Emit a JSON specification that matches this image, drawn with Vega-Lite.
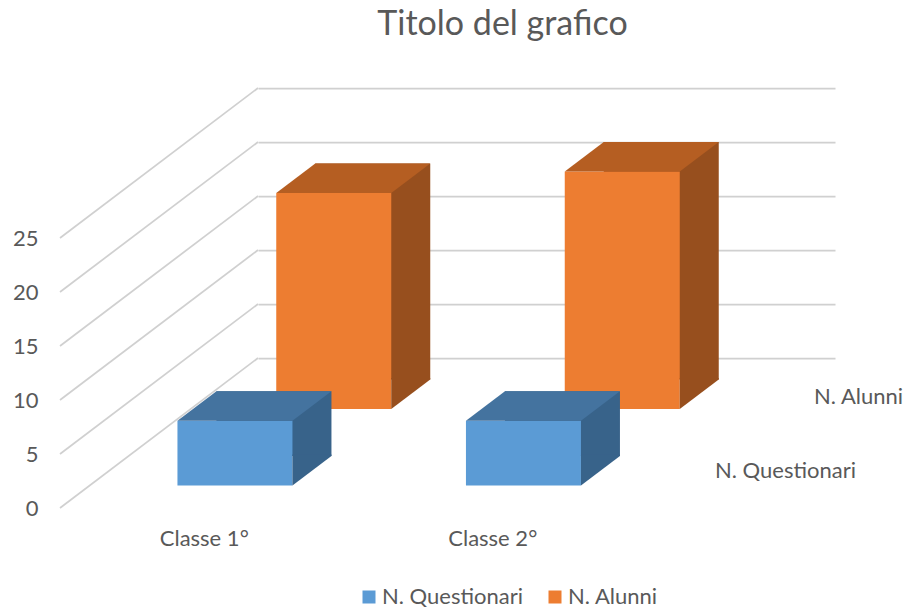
{
  "$schema": "https://vega.github.io/schema/vega-lite/v6.json",
  "width": 577,
  "height": 270,
  "autosize": {"type": "none"},
  "padding": {"left": 258, "top": 88, "right": 76, "bottom": 256},
  "background": "white",
  "config": {"view": {"stroke": null}, "font": "Lato"},
  "title": {"text": "Titolo del grafico", "fontSize": 34, "font": "Lato", "fontWeight": "normal", "color": "#595959", "anchor": "middle", "frame": "group", "dx": -44, "offset": 43},
  "datasets": {
    "bars": [
      {"classe": "Classe 1°", "series": "N. Questionari", "value": 6},
      {"classe": "Classe 2°", "series": "N. Questionari", "value": 6},
      {"classe": "Classe 1°", "series": "N. Alunni", "value": 20},
      {"classe": "Classe 2°", "series": "N. Alunni", "value": 22}
    ],
    "ticks": [{"v": 0}, {"v": 5}, {"v": 10}, {"v": 15}, {"v": 20}, {"v": 25}]
  },
  "data": {"name": "bars"},
  "layer": [
    {
      "data": {"name": "ticks"},
      "mark": {"type": "point", "shape": "M-144.25,0L-342.25,150", "size": 4, "filled": false, "stroke": "#D0D0D0", "strokeWidth": 1.75, "opacity": 1},
      "encoding": {
        "x": {"datum": "Classe 1°", "type": "nominal",
          "scale": {"type": "band", "domain": ["Classe 1°", "Classe 2°"], "paddingInner": 0, "paddingOuter": 0},
          "axis": {"domain": false, "ticks": false, "grid": false, "labelOffset": -198, "labelPadding": 180, "labelBaseline": "middle", "labelFontSize": 22, "labelColor": "#595959", "labelFont": "Lato", "labelAngle": 0, "labelOverlap": false, "labelBound": false, "title": null}},
        "y": {"field": "v", "type": "quantitative", "title": null,
          "scale": {"domain": [0, 25], "nice": false, "zero": true},
          "axis": {"domain": false, "ticks": false, "grid": true, "gridColor": "#D0D0D0", "gridWidth": 1.75, "values": [0, 5, 10, 15, 20, 25], "labelPadding": 220, "labelOffset": 150, "labelFontSize": 22, "labelColor": "#595959", "labelFont": "Lato", "labelFlush": false, "labelOverlap": false, "labelBound": false, "title": null}}
      }
    },
    {
      "transform": [{"filter": "datum.series === 'N. Alunni'"}],
      "mark": {"type": "bar", "width": 115, "color": "#974F1E", "xOffset": -29.5, "yOffset": 21.5, "y2Offset": 21.5},
      "encoding": {
        "x": {"field": "classe", "type": "nominal", "title": null},
        "y": {"field": "value", "type": "quantitative", "title": null},
        "y2": {"datum": 0}
      }
    },
    {
      "transform": [{"filter": "datum.series === 'N. Alunni'"}],
      "mark": {"type": "bar", "width": 115, "xOffset": -68.5, "yOffset": 51, "y2Offset": 51},
      "encoding": {
        "x": {"field": "classe", "type": "nominal", "title": null},
        "y": {"field": "value", "type": "quantitative", "title": null},
        "y2": {"datum": 0},
        "color": {"field": "series", "type": "nominal",
          "scale": {"domain": ["N. Questionari", "N. Alunni"], "range": ["#5B9BD5", "#ED7D31"]},
          "legend": {"orient": "none", "legendX": 100, "legendY": 498, "direction": "horizontal", "title": null, "symbolType": "square", "symbolSize": 169, "symbolStrokeWidth": 0, "labelFontSize": 22, "labelColor": "#595959", "labelFont": "Lato", "labelOffset": 2, "columnPadding": 21, "padding": 0}}
      }
    },
    {
      "transform": [{"filter": "datum.series === 'N. Alunni'"}],
      "mark": {"type": "point", "shape": "M-57.5,0L57.5,0L96.5,-29.5L-18.5,-29.5Z", "size": 4, "filled": true, "color": "#B55E22", "strokeWidth": 0, "opacity": 1, "xOffset": -68.5, "yOffset": 51},
      "encoding": {
        "x": {"field": "classe", "type": "nominal", "title": null},
        "y": {"field": "value", "type": "quantitative", "title": null}
      }
    },
    {
      "transform": [{"filter": "datum.series === 'N. Alunni'"}],
      "mark": {"type": "point", "shape": "M57.5,0L57.5,-31L96.5,-31L96.5,-29.5Z", "size": 4, "filled": true, "color": "#974F1E", "strokeWidth": 0, "opacity": 1, "xOffset": -68.5, "yOffset": 51},
      "encoding": {
        "x": {"field": "classe", "type": "nominal", "title": null},
        "y": {"datum": 0, "type": "quantitative"}
      }
    },
    {
      "transform": [{"filter": "datum.series === 'N. Alunni' && datum.classe === 'Classe 2°'"}],
      "mark": {"type": "text", "align": "left", "baseline": "middle", "fontSize": 22, "font": "Lato", "color": "#595959", "xOffset": 123.25, "yOffset": 38.7},
      "encoding": {
        "x": {"field": "classe", "type": "nominal", "title": null},
        "y": {"datum": 0, "type": "quantitative"},
        "text": {"field": "series"}
      }
    },
    {
      "transform": [{"filter": "datum.series === 'N. Questionari'"}],
      "mark": {"type": "bar", "width": 115, "color": "#38638A", "xOffset": -128.3, "yOffset": 98, "y2Offset": 98},
      "encoding": {
        "x": {"field": "classe", "type": "nominal", "title": null},
        "y": {"field": "value", "type": "quantitative", "title": null},
        "y2": {"datum": 0}
      }
    },
    {
      "transform": [{"filter": "datum.series === 'N. Questionari'"}],
      "mark": {"type": "bar", "width": 115, "xOffset": -167.3, "yOffset": 127.5, "y2Offset": 127.5},
      "encoding": {
        "x": {"field": "classe", "type": "nominal", "title": null},
        "y": {"field": "value", "type": "quantitative", "title": null},
        "y2": {"datum": 0},
        "color": {"field": "series", "type": "nominal"}
      }
    },
    {
      "transform": [{"filter": "datum.series === 'N. Questionari'"}],
      "mark": {"type": "point", "shape": "M-57.5,0L57.5,0L96.5,-29.5L-18.5,-29.5Z", "size": 4, "filled": true, "color": "#44739F", "strokeWidth": 0, "opacity": 1, "xOffset": -167.3, "yOffset": 127.5},
      "encoding": {
        "x": {"field": "classe", "type": "nominal", "title": null},
        "y": {"field": "value", "type": "quantitative", "title": null}
      }
    },
    {
      "transform": [{"filter": "datum.series === 'N. Questionari'"}],
      "mark": {"type": "point", "shape": "M57.5,0L57.5,-31L96.5,-31L96.5,-29.5Z", "size": 4, "filled": true, "color": "#38638A", "strokeWidth": 0, "opacity": 1, "xOffset": -167.3, "yOffset": 127.5},
      "encoding": {
        "x": {"field": "classe", "type": "nominal", "title": null},
        "y": {"datum": 0, "type": "quantitative"}
      }
    },
    {
      "transform": [{"filter": "datum.series === 'N. Questionari' && datum.classe === 'Classe 2°'"}],
      "mark": {"type": "text", "align": "left", "baseline": "middle", "fontSize": 22, "font": "Lato", "color": "#595959", "xOffset": 24.25, "yOffset": 113},
      "encoding": {
        "x": {"field": "classe", "type": "nominal", "title": null},
        "y": {"datum": 0, "type": "quantitative"},
        "text": {"field": "series"}
      }
    }
  ]
}
